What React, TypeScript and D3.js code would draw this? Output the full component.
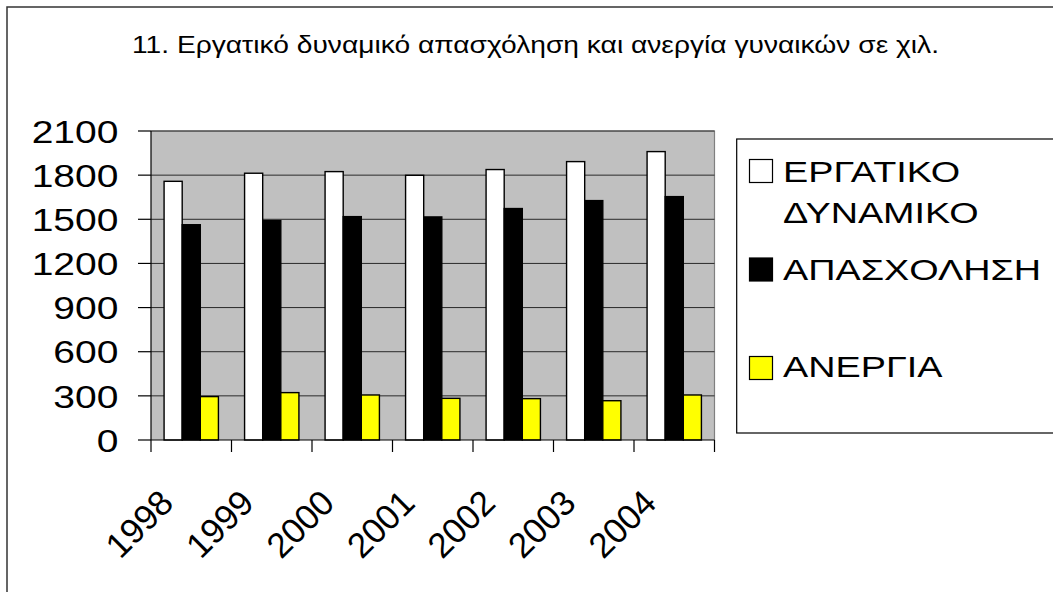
import React from "react";
import * as d3 from "d3";

const years = ["1998", "1999", "2000", "2001", "2002", "2003", "2004"];
const labourForce = [1758, 1813, 1824, 1799, 1838, 1892, 1960];
const employment = [1463, 1491, 1518, 1516, 1573, 1627, 1654];
const unemployment = [295, 322, 306, 283, 281, 267, 306];
const yTicks = [0, 300, 600, 900, 1200, 1500, 1800, 2100];
const seriesNames = [["ΕΡΓΑΤΙΚΟ", "ΔΥΝΑΜΙΚΟ"], ["ΑΠΑΣΧΟΛΗΣΗ"], ["ΑΝΕΡΓΙΑ"]];
const seriesColors = ["#FFFFFF", "#000000", "#FFFF00"];
const title = "11. Εργατικό δυναμικό απασχόληση και ανεργία γυναικών σε χιλ.";

const FONT = "'Liberation Sans', Arial, sans-serif";

export default function App() {
  const W = 1053, H = 592;
  const left = 151, right = 714.5, top = 131, bottom = 440;
  const x = d3.scaleBand<string>().domain(years).range([left, right]).padding(0);
  const y = d3.scaleLinear().domain([0, 2100]).range([bottom, top]);
  const bw = x.bandwidth();
  const barW = bw * 0.225;
  const offset = (bw - 3 * barW) / 2;
  const series = [labourForce, employment, unemployment];

  const legendSwatchY = [159.5, 258, 356.5];
  const legendBaselines = [[181.7, 223.3], [280], [376.7]];

  return (
    <svg width={W} height={H} style={{ position: "fixed", left: 0, top: 0, background: "#fff" }}
      fontFamily={FONT}>
      <rect x={0} y={0} width={W} height={H} fill="#fff" />
      {/* outer chart border */}
      <rect x={7} y={7} width={W + 20} height={H + 20} fill="none" stroke="#333" strokeWidth={1.5} />
      {/* title */}
      <text x={535.5} y={53.3} textAnchor="middle" fontSize={24.5} textLength={807}
        lengthAdjust="spacingAndGlyphs" fill="#000">{title}</text>

      {/* plot area */}
      <rect x={left} y={top} width={right - left} height={bottom - top} fill="#C0C0C0" />
      <path d={`M${left},${top}H${right}V${bottom}`} fill="none" stroke="#808080" strokeWidth={1.2} />
      {/* gridlines */}
      {yTicks.filter(t => t > 0).map(t => (
        <line key={"g" + t} x1={left} x2={right} y1={y(t)} y2={y(t)} stroke="#2a2a2a" strokeWidth={1} />
      ))}
      {/* bars */}
      {series.map((vals, si) => vals.map((v, i) => (
        <rect key={`b${si}-${i}`} x={(x(years[i]) as number) + offset + si * barW} y={y(v)}
          width={barW} height={bottom - y(v)} fill={seriesColors[si]} stroke="#000" strokeWidth={1.4} />
      )))}
      {/* y axis */}
      <line x1={left} x2={left} y1={top} y2={bottom} stroke="#000" strokeWidth={1.2} />
      {yTicks.map(t => (
        <g key={"yt" + t}>
          <line x1={138} x2={left} y1={y(t)} y2={y(t)} stroke="#000" strokeWidth={1.2} />
          <text transform={`translate(118.5,${y(t) + 11.7}) scale(1.22,1)`} textAnchor="end"
            fontSize={32} fill="#000">{t}</text>
        </g>
      ))}
      {/* x axis */}
      <line x1={left} x2={right} y1={bottom} y2={bottom} stroke="#000" strokeWidth={1.2} />
      {[...years.map(yr => x(yr) as number), right].map((px, i) => (
        <line key={"xt" + i} x1={px} x2={px} y1={bottom} y2={bottom + 12} stroke="#000" strokeWidth={1.2} />
      ))}
      {years.map(yr => {
        const cx = (x(yr) as number) + bw / 2 - 16;
        return (
          <text key={"xl" + yr} transform={`translate(${cx},505) rotate(-45)`} textAnchor="end"
            fontSize={35} fill="#000">{yr}</text>
        );
      })}

      {/* legend */}
      <rect x={736.7} y={139} width={W} height={294} fill="#fff" stroke="#000" strokeWidth={1.2} />
      {seriesNames.map((lines, si) => (
        <g key={"lg" + si}>
          <rect x={749.5} y={legendSwatchY[si]} width={23} height={23} fill={seriesColors[si]}
            stroke="#000" strokeWidth={1.2} />
          {lines.map((ln, li) => (
            <text key={li} transform={`translate(783,${legendBaselines[si][li]}) scale(1.26,1)`}
              fontSize={30} fill="#000">{ln}</text>
          ))}
        </g>
      ))}
    </svg>
  );
}
